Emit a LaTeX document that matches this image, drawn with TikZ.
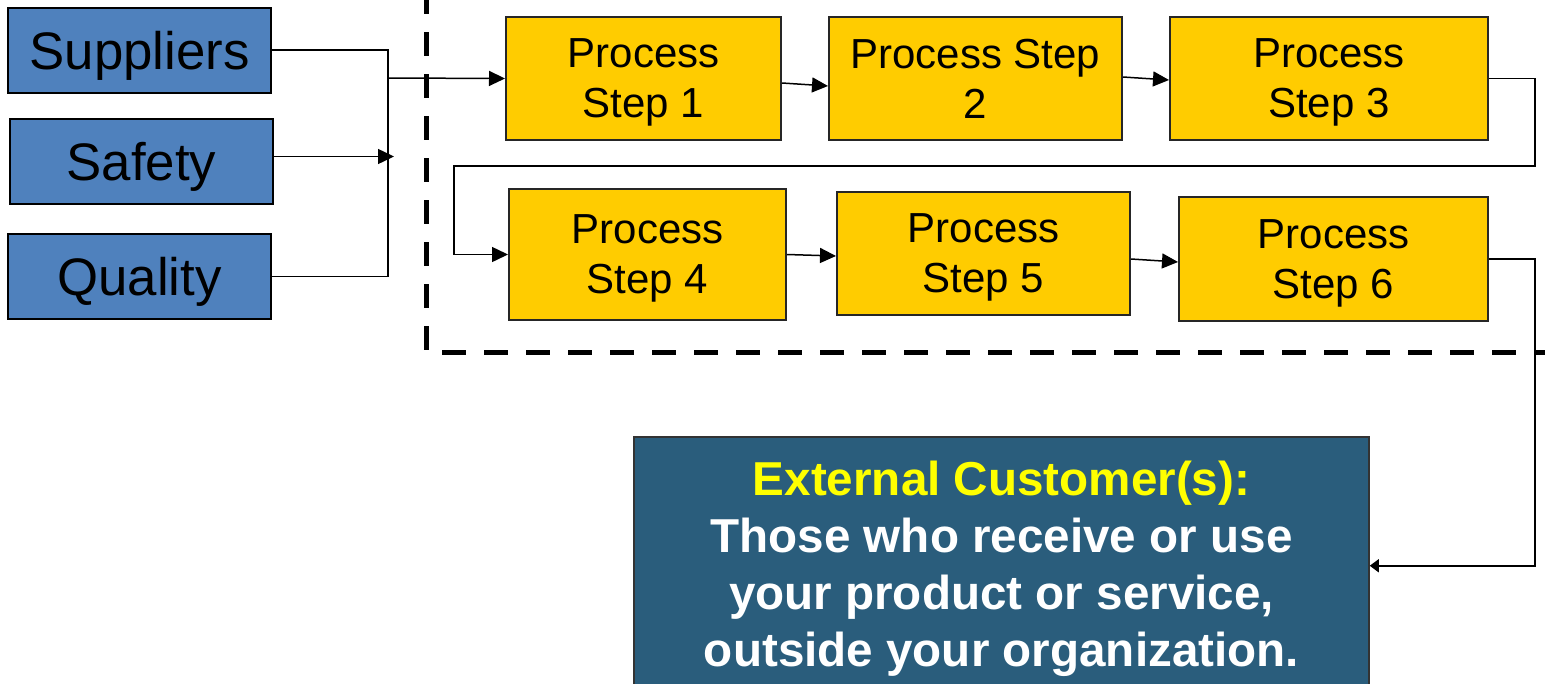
\documentclass[tikz,border=0pt]{standalone}
\usepackage{fontspec}
\setmainfont{Liberation Sans}
\usetikzlibrary{arrows.meta, positioning}

\definecolor{inblue}{HTML}{4F81BD}
\definecolor{stepyellow}{HTML}{FFCC00}
\definecolor{custblue}{HTML}{2A5D7C}
\definecolor{headyellow}{HTML}{FFFF00}

\begin{document}
\begin{tikzpicture}[
    x=1pt, y=-1pt,
    >={Triangle[length=16pt,width=15pt]},
    input/.style={
      rectangle,
      draw=black,
      line width=2pt,
      fill=inblue,
      minimum width=263pt,
      minimum height=85pt,
      text depth=0pt,
      font=\fontsize{52.8}{60}\selectfont
    },
    stepbox/.style={
      rectangle,
      draw=black!85,
      line width=2pt,
      fill=stepyellow,
      align=center,
      minimum height=123pt,
      text depth=0pt,
      font=\fontsize{42}{50}\selectfont
    },
    boundary/.style={
      line width=5pt,
      dash pattern=on 24pt off 18pt
    }
  ]
    \clip (0,0) rectangle (1560,683);
    \node[input] (supp)    at (139.5,50)    {Suppliers};
    \node[input] (safety)  at (141.5,161.5) {Safety};
    \node[input] (quality) at (139.5,276.5) {Quality};
    \node[stepbox, minimum width=275pt] (step1) at (643.5,78.5) {Process\\Step 1};
    \node[stepbox, minimum width=293pt] (step2) at (975.5,78.5) {Process Step\\2};
    \node[stepbox, minimum width=318pt] (step3) at (1329,78.5)  {Process\\Step 3};
    \node[stepbox, minimum width=277pt, minimum height=131pt] (step4) at (647.5,254.5) {Process\\Step 4};
    \node[stepbox, minimum width=293pt] (step5) at (983.5,253.5) {Process\\Step 5};
    \node[stepbox, minimum width=309pt, minimum height=124pt] (step6) at (1333.5,259) {Process\\Step 6};
    \node[rectangle, draw=black!80, line width=1.5pt, fill=custblue, text=white,
          align=center, anchor=north, minimum width=735pt, minimum height=258pt,
          text depth=5pt, font=\bfseries\fontsize{47.6}{57}\selectfont] (cust) at (1001.5,436)
      {\textcolor{headyellow}{External Customer(s):}\\Those who receive or use\\your product or service,\\outside your organization.};
    \coordinate (join) at (388,78);
    \coordinate (turn) at (1535,166);
    \draw[boundary] (426,-10) -- (426,352) -- (1545,352);
    \begin{scope}[line width=1.5pt]
      \draw (supp.east) -| (join);
      \draw (quality.east) -| (join);
      \draw[->] (join) -- (step1.west);
      \draw[->] ([yshift=5pt]safety.east) -- ([yshift=5pt,xshift=6pt]safety.east -| join);
      \draw[->] ([yshift=-4.5pt]step1.east) -- ([yshift=-7.5pt]step2.west);
      \draw[->] ([yshift=1.5pt]step2.east) -- ([yshift=-1.5pt]step3.west);
      \draw[->] (step3.east) -| (turn) -| ([xshift=-54pt]step4.west) -- (step4.west);
      \draw[->] (step4.east) -- ([yshift=-2.5pt]step5.west);
      \draw[->] ([yshift=-5.5pt]step5.east) -- ([yshift=-3pt]step6.west);
      \draw[-{Triangle[length=9pt,width=13pt]}] (step6.east) -- (step6.east -| turn) |- (cust.east);
    \end{scope}
  \end{tikzpicture}
\end{document}
